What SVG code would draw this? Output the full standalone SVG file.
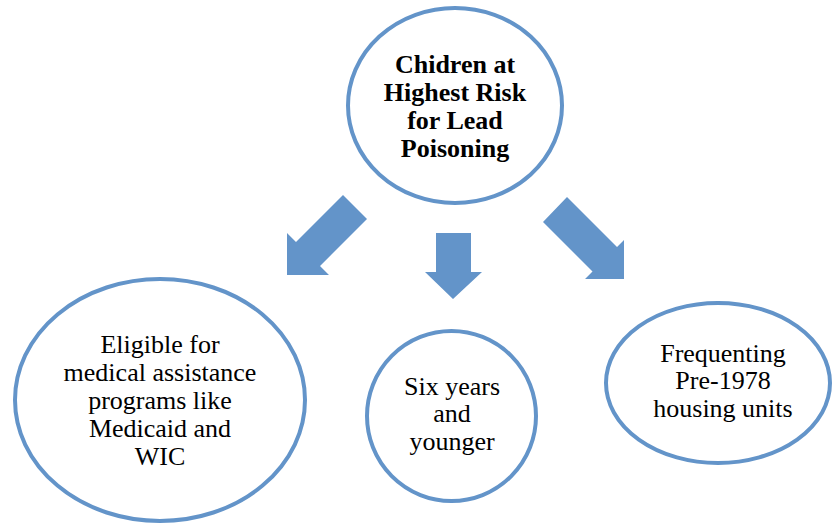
<svg xmlns="http://www.w3.org/2000/svg" width="832" height="525" viewBox="0 0 832 525">
<style>
.node{fill:#fff;stroke:#6394C9;stroke-width:4}
.arrow{fill:#6394C9;stroke:none}
.t{font-family:"Liberation Serif","Times New Roman",serif;font-size:26px;fill:#000;text-anchor:middle}
.b{font-weight:bold}
</style>
<rect width="832" height="525" fill="#fff"/>
<g id="connectors">
<polygon class="arrow" points="343,195 367,219 320,266 329,275 287,275 287,233 296,242"/>
<polygon class="arrow" points="436,233 471,233 471,272 482,272 453,299 425,272 436,272"/>
<polygon class="arrow" points="567,197 617,247 624,240 624,279 585,279 592.5,271.5 543,222"/>
</g>
<g id="root">
<ellipse class="node" cx="455" cy="105.5" rx="107" ry="97.5"/>
<text class="t b" x="455" y="73">Chidren at</text>
<text class="t b" x="455" y="101">Highest Risk</text>
<text class="t b" x="455" y="129">for Lead</text>
<text class="t b" x="455" y="157">Poisoning</text>
</g>
<g id="eligible">
<ellipse class="node" cx="160" cy="400" rx="145" ry="121"/>
<text class="t" x="160" y="353">Eligible for</text>
<text class="t" x="160" y="381">medical assistance</text>
<text class="t" x="160" y="409">programs like</text>
<text class="t" x="160" y="437">Medicaid and</text>
<text class="t" x="160" y="465">WIC</text>
</g>
<g id="age">
<ellipse class="node" cx="451.5" cy="416" rx="84.5" ry="85"/>
<text class="t" x="452" y="395">Six years</text>
<text class="t" x="452" y="422">and</text>
<text class="t" x="452" y="450">younger</text>
</g>
<g id="housing">
<ellipse class="node" cx="718" cy="383" rx="112" ry="80"/>
<text class="t" x="723" y="362">Frequenting</text>
<text class="t" x="723" y="389">Pre-1978</text>
<text class="t" x="723" y="417">housing units</text>
</g>
</svg>
